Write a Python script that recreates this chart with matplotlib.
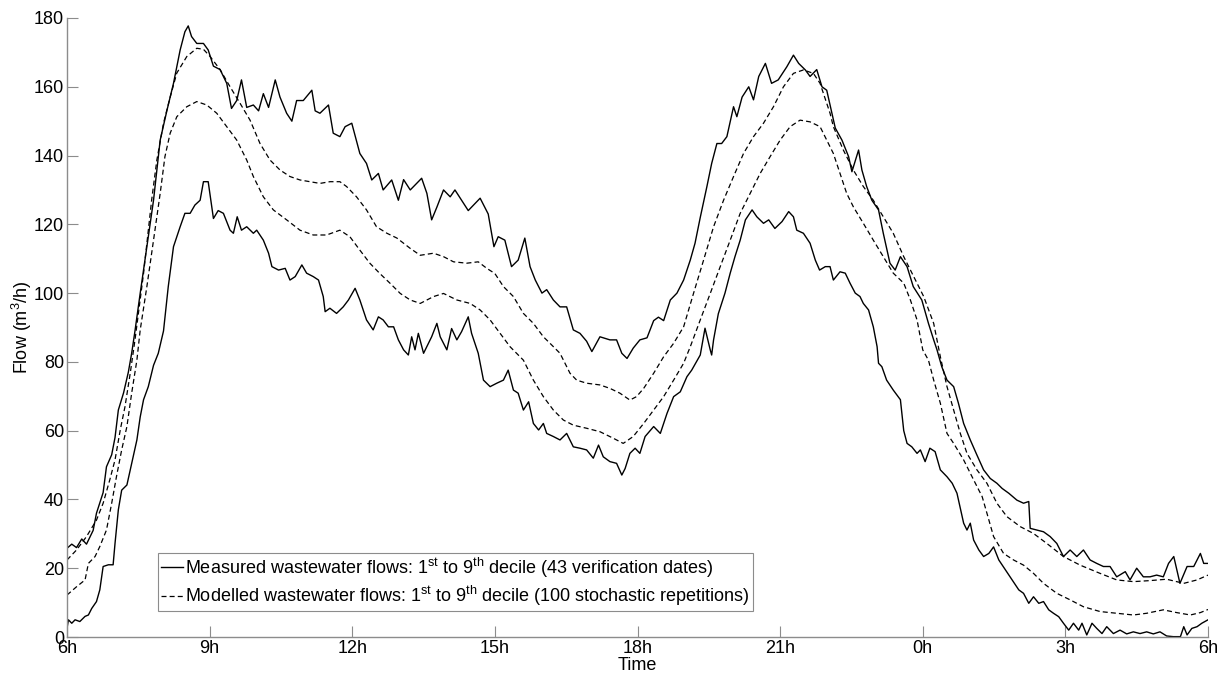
import numpy as np
import matplotlib.pyplot as plt

plt.rcParams['font.family'] = ['Liberation Sans', 'DejaVu Sans']
plt.rcParams['mathtext.fontset'] = 'custom'
plt.rcParams['mathtext.rm'] = 'Liberation Sans'
plt.rcParams['mathtext.it'] = 'Liberation Sans:italic'

# time axis: hours after 6h (0 = 6h, 24 = 6h next day)
tick_pos = [0, 3, 6, 9, 12, 15, 18, 21, 24]
tick_labels = ['6h', '9h', '12h', '15h', '18h', '21h', '0h', '3h', '6h']
y_ticks = [0, 20, 40, 60, 80, 100, 120, 140, 160, 180]

# measured, 9th decile
t_meas9 = [0, 0.1, 0.2, 0.31, 0.41, 0.55, 0.62, 0.69, 0.76, 0.83, 0.94, 1.01, 1.08, 1.19, 1.29, 1.36,
           1.43, 1.54, 1.68, 1.82, 1.96, 2.1, 2.24, 2.38, 2.48, 2.55, 2.62, 2.73, 2.87, 2.97, 3.08,
           3.22, 3.36, 3.46, 3.57, 3.67, 3.78, 3.92, 4.03, 4.13, 4.24, 4.38, 4.48, 4.62, 4.73, 4.83,
           4.97, 5.15, 5.22, 5.32, 5.5, 5.6, 5.74, 5.85, 5.99, 6.16, 6.3, 6.41, 6.55, 6.65, 6.83,
           6.97, 7.08, 7.22, 7.39, 7.46, 7.57, 7.67, 7.78, 7.92, 8.06, 8.16, 8.3, 8.44, 8.58, 8.69,
           8.86, 8.98, 9.07, 9.21, 9.35, 9.49, 9.63, 9.74, 9.85, 9.99, 10.09, 10.23, 10.37, 10.51,
           10.65, 10.79, 10.93, 11.04, 11.21, 11.42, 11.56, 11.67, 11.78, 11.91, 12.05, 12.2, 12.34,
           12.44, 12.55, 12.69, 12.83, 12.97, 13.11, 13.21, 13.32, 13.46, 13.56, 13.67, 13.77, 13.88,
           14.02, 14.09, 14.2, 14.34, 14.44, 14.55, 14.69, 14.82, 14.96, 15.14, 15.28, 15.39, 15.53,
           15.63, 15.77, 15.88, 15.98, 16.09, 16.16, 16.3, 16.44, 16.51, 16.65, 16.72, 16.82, 16.93,
           17.07, 17.17, 17.31, 17.42, 17.53, 17.67, 17.8, 17.98, 18.12, 18.23, 18.3, 18.4, 18.51,
           18.65, 18.75, 18.86, 19.0, 19.14, 19.28, 19.42, 19.56, 19.67, 19.81, 19.98, 20.12, 20.23,
           20.26, 20.4, 20.54, 20.68, 20.82, 20.96, 21.1, 21.24, 21.38, 21.52, 21.66, 21.8, 21.94,
           22.08, 22.26, 22.36, 22.5, 22.64, 22.78, 22.92, 23.06, 23.17, 23.28, 23.41, 23.56, 23.7,
           23.84, 23.91, 24.0]
meas9 = [25.8, 27, 26, 28.5, 27, 31, 36, 39, 42, 49.5, 53, 58, 66, 71, 77, 82.5,
         89, 100, 113.5, 127, 144.5, 153, 161, 170.7, 176, 177.7, 174.6, 172.6, 172.6, 170.7, 166,
         165, 161, 153.7, 156, 162, 154, 154.7, 153, 158, 154, 162, 157, 152.3, 150, 156,
         156, 159, 153, 152.3, 154.7, 146.5, 145.5, 148.4, 149.4, 140.6, 137.7, 132.9, 134.8, 130, 132.9,
         127, 133, 130, 132.4, 133.4, 129, 121.3, 125, 130, 128, 130, 127, 124, 126, 127.6,
         123, 113.5, 116.4, 115.4, 107.7, 109.6, 116, 107.7, 103.8, 100, 101, 98, 96, 96,
         89.3, 88.3, 86, 83, 87.3, 86.4, 86.4, 82.5, 81, 84, 86.4, 87, 92,
         93, 92, 98, 100, 103.8, 109.6, 114.5, 122, 131, 137.7, 143.5, 143.5, 145.5,
         154.2, 151.3, 157, 160, 156.2, 163, 166.8, 161, 162, 165.8, 169.2, 166.8, 164.9,
         163, 165, 160, 159, 152.3, 148, 144.5, 139.7, 135.3, 141.6, 135.8, 131, 127,
         124.2, 117.4, 108.7, 106.7, 110.6, 107.7, 101.9, 98, 91.2, 86.4, 83.5, 78.6, 74.7,
         72.8, 68, 62.1, 57.3, 52.9, 48.6, 46.1, 44.7, 43.2, 41.8, 39.8, 38.9, 39.4,
         31.6, 31.1, 30.6, 29.2, 27.2, 23.4, 25.3, 23.4, 25.3, 22.4, 21.4, 20.5, 20.5,
         17.5, 19, 16.6, 20, 17.5, 17.5, 18, 17.5, 21.4, 23.4, 15.6, 20.5, 20.5,
         24.3, 21.4, 21.4]

# measured, 1st decile
t_meas1 = [0, 0.03, 0.1, 0.17, 0.27, 0.38, 0.45, 0.52, 0.62, 0.69, 0.76, 0.87, 0.97, 1.01, 1.08,
           1.15, 1.26, 1.36, 1.47, 1.54, 1.61, 1.71, 1.82, 1.92, 2.03, 2.13, 2.24, 2.38, 2.48, 2.59,
           2.69, 2.8, 2.87, 2.97, 3.08, 3.18, 3.29, 3.43, 3.5, 3.58, 3.67, 3.78, 3.92, 3.99, 4.13,
           4.24, 4.31, 4.45, 4.59, 4.69, 4.8, 4.94, 5.04, 5.18, 5.29, 5.39, 5.43, 5.53, 5.67, 5.81,
           5.92, 6.06, 6.16, 6.3, 6.44, 6.55, 6.65, 6.76, 6.87, 6.97, 7.08, 7.18, 7.25, 7.32, 7.39,
           7.5, 7.67, 7.78, 7.85, 7.99, 8.09, 8.2, 8.3, 8.44, 8.51, 8.65, 8.76, 8.9, 9.04, 9.18,
           9.28, 9.39, 9.49, 9.6, 9.71, 9.81, 9.92, 10.02, 10.09, 10.23, 10.37, 10.51, 10.65, 10.79,
           10.93, 11.07, 11.18, 11.28, 11.42, 11.56, 11.67, 11.74, 11.84, 11.95, 12.05, 12.16, 12.34,
           12.48, 12.62, 12.76, 12.9, 13.04, 13.14, 13.32, 13.42, 13.53, 13.56, 13.6, 13.7, 13.84,
           13.95, 14.05, 14.16, 14.27, 14.41, 14.51, 14.65, 14.76, 14.89, 15.04, 15.18, 15.28, 15.35,
           15.49, 15.63, 15.74, 15.83, 15.95, 16.05, 16.12, 16.26, 16.37, 16.47, 16.58, 16.68, 16.75,
           16.86, 16.96, 17.04, 17.07, 17.14, 17.24, 17.38, 17.53, 17.6, 17.67, 17.77, 17.88, 17.95,
           18.05, 18.15, 18.26, 18.37, 18.51, 18.62, 18.72, 18.86, 18.93, 19.0, 19.07, 19.18, 19.28,
           19.39, 19.49, 19.6, 19.74, 19.88, 20.02, 20.12, 20.23, 20.33, 20.44, 20.54, 20.65, 20.75,
           20.86, 20.96, 21.07, 21.17, 21.28, 21.35, 21.45, 21.56, 21.66, 21.77, 21.87, 22.01, 22.15,
           22.29, 22.43, 22.57, 22.71, 22.85, 22.99, 23.13, 23.27, 23.42, 23.49, 23.56, 23.66, 23.77,
           23.87, 24]
meas1 = [2.5, 5, 4, 5, 4.5, 6, 6.4, 8.3, 10.3, 13.7, 20.5, 21, 21, 27.2, 37,
         42.7, 44.2, 50.5, 57.3, 64, 69, 72.8, 79, 82.5, 89, 101.9, 113.5, 119.3, 123.2, 123.2,
         125.6, 127, 132.4, 132.4, 121.7, 124, 123.2, 118.3, 117.4, 122.2, 118.3, 119.3, 117.4, 118.3, 115.4,
         111.6, 107.7, 106.7, 107.2, 103.8, 104.8, 108.2, 105.8, 104.8, 103.8, 99, 94.6, 95.6, 94.1, 96,
         98, 101.4, 98, 92.2, 89.3, 93.1, 92.2, 90.2, 90.2, 86.4, 83.5, 82, 87.3, 83.5, 88.3,
         82.5, 87.3, 91.2, 87.3, 83.5, 89.7, 86.4, 88.8, 93.1, 88.3, 82.5, 74.7, 72.8, 73.8, 74.7,
         77.6, 71.8, 70.9, 66, 68.4, 62.1, 60.2, 62.1, 59.2, 58.3, 57.3, 59.2, 55.3, 54.9,
         54.4, 52, 55.8, 52.4, 51, 50.5, 47.1, 49, 53.4, 54.9, 53.4, 58.3, 61.2,
         59.2, 65, 69.9, 71.3, 75.7, 77.6, 82, 89.8, 83.5, 82, 86.4, 94, 100,
         105.8, 110.6, 115.4, 121.3, 124.2, 122.2, 120.3, 121.3, 118.8, 120.8, 123.7, 122.2, 118.3,
         117.4, 114.5, 109.6, 106.7, 107.7, 107.7, 103.8, 106.2, 105.8, 102.9, 100, 99, 97,
         95.1, 90.2, 84.4, 79.6, 78.6, 74.7, 71.8, 69, 60, 56.3, 55.3, 53.4, 54.4,
         51, 54.9, 53.9, 48.6, 46.6, 44.7, 41.8, 33.1, 31.1, 33.1, 28.2, 25.3, 23.4,
         24.3, 26.2, 22.4, 19.5, 16.6, 13.7, 12.7, 9.8, 11.7, 9.8, 10.3, 7.9, 6.9,
         5.9, 4, 2, 4, 2, 4, 0.6, 4, 2.5, 1, 3, 1, 2,
         0.9, 1.5, 1, 1.5, 0.9, 1.5, 0.3, 0.1, 0.1, 3, 0.6, 2.5, 3,
         4, 5]

# modelled, 9th decile
t_mod9 = [0, 0.2, 0.41, 0.62, 0.76, 0.9, 1.01, 1.12, 1.22, 1.33, 1.43, 1.61, 1.78, 1.89, 2.03, 2.17,
          2.31, 2.52, 2.73, 2.87, 3.01, 3.22, 3.43, 3.64, 3.85, 4.06, 4.27, 4.48, 4.69, 4.9, 5.11,
          5.32, 5.53, 5.74, 5.88, 6.09, 6.3, 6.51, 6.73, 6.94, 7.22, 7.43, 7.71, 7.92, 8.13, 8.41,
          8.65, 8.83, 9.0, 9.18, 9.39, 9.6, 9.81, 10.02, 10.16, 10.37, 10.58, 10.72, 10.93, 11.21,
          11.42, 11.63, 11.84, 11.98, 12.13, 12.34, 12.55, 12.76, 12.97, 13.18, 13.39, 13.6, 13.81,
          14.02, 14.23, 14.44, 14.65, 14.86, 15.07, 15.28, 15.49, 15.7, 15.84, 16.05, 16.12, 16.33,
          16.54, 16.75, 16.96, 17.17, 17.38, 17.6, 17.81, 18.02, 18.23, 18.37, 18.51, 18.65, 18.79,
          18.93, 19.14, 19.35, 19.56, 19.77, 20.05, 20.33, 20.61, 20.96, 21.31, 21.73, 22.08, 22.43,
          22.78, 23.13, 23.49, 23.77, 24]
mod9 = [22.4, 25.3, 29.2, 34, 38.9, 45.7, 51.5, 60.2, 67, 76.7, 86.4, 105.7, 127, 138.7, 149.4, 157,
        164, 168.8, 171.2, 170.9, 168.8, 165, 160, 155.2, 150.3, 143.5, 138.7, 135.8, 133.9, 132.9, 132.4,
        131.9, 132.4, 132.4, 131, 128, 124.2, 119.3, 117.4, 116, 113, 111, 111.6, 110.6, 109.1, 108.7,
        109.1, 107.2, 105.7, 101.9, 99, 94.1, 91.2, 87.3, 85.4, 82.5, 76.7, 74.7, 73.8, 73.3,
        72.3, 70.9, 68.9, 69.9, 72.3, 76.7, 81.5, 85.4, 90.2, 100, 109.6, 119.3, 127,
        133.9, 140.6, 145.5, 149.4, 154.2, 160, 163.9, 164.9, 163.9, 161, 152.3, 148.4, 141.6,
        135.8, 131, 127, 122.2, 117.4, 110.6, 104.8, 99, 91.2, 81.5, 72.8, 66, 59.2,
        53.4, 48.6, 44.7, 38.9, 35, 32.1, 30.1, 27.2, 23.4, 20.9, 18.5, 16.6, 16.1,
        16.4, 16.8, 15.6, 16.6, 18]

# modelled, 1st decile
t_mod1 = [0, 0.2, 0.38, 0.45, 0.59, 0.69, 0.83, 0.94, 1.04, 1.15, 1.26, 1.36, 1.47, 1.54, 1.68, 1.82,
          1.96, 2.06, 2.17, 2.31, 2.52, 2.73, 2.94, 3.15, 3.36, 3.57, 3.78, 3.92, 4.13, 4.34, 4.62,
          4.9, 5.18, 5.46, 5.74, 5.95, 6.16, 6.37, 6.58, 6.8, 7.01, 7.22, 7.43, 7.71, 7.92, 8.2,
          8.48, 8.69, 8.9, 9.11, 9.32, 9.6, 9.81, 10.02, 10.23, 10.44, 10.65, 10.93, 11.21, 11.49,
          11.7, 11.91, 12.13, 12.34, 12.55, 12.76, 12.97, 13.11, 13.32, 13.53, 13.74, 13.95, 14.16,
          14.37, 14.58, 14.79, 15.0, 15.21, 15.42, 15.63, 15.84, 15.98, 16.12, 16.26, 16.4, 16.54,
          16.75, 16.96, 17.17, 17.38, 17.6, 17.74, 17.88, 18.0, 18.12, 18.23, 18.37, 18.51, 18.65,
          18.86, 19.07, 19.25, 19.35, 19.49, 19.7, 19.91, 20.12, 20.33, 20.54, 20.82, 21.1, 21.38,
          21.73, 22.08, 22.43, 22.71, 23.06, 23.34, 23.63, 23.84, 24]
mod1 = [12.2, 14.6, 16.6, 21.4, 23.4, 26.3, 31.1, 38.9, 46.6, 54.4, 61.2, 70.9, 80.5, 89.3, 101.9, 115.4,
        129, 139.7, 146.5, 151.3, 154.2, 155.7, 154.7, 152.3, 148.4, 144.5, 138.7, 133.9, 128, 124.2, 121.3,
        118.3, 116.9, 116.9, 118.3, 116.4, 112.5, 108.7, 105.7, 102.8, 99.9, 98, 97, 99, 99.9, 98,
        97, 95.1, 92.2, 88.3, 84.4, 80.5, 74.7, 69.9, 66, 63.1, 61.6, 60.7, 59.7, 57.8,
        56.3, 58.3, 62.1, 66, 69.9, 74.7, 79.6, 84.4, 92.2, 99.9, 107.7, 115.4, 123.2,
        129, 134.8, 139.7, 144.5, 148.4, 150.3, 149.8, 148.4, 144.5, 140.6, 134.8, 129, 125.1,
        120.3, 115.4, 110.6, 105.8, 102.9, 98, 92.2, 83.5, 80.5, 74.7, 68, 59.2, 56.3,
        51.5, 45.7, 40.8, 36, 29.2, 24.3, 22.4, 20.9, 18.5, 15.6, 12.7, 10.8, 8.8,
        7.4, 6.9, 6.4, 6.9, 7.9, 7.1, 6.4, 7.1, 8]

label_meas = r'Measured wastewater flows: 1$^{\rm st}$ to 9$^{\rm th}$ decile (43 verification dates)'
label_mod = r'Modelled wastewater flows: 1$^{\rm st}$ to 9$^{\rm th}$ decile (100 stochastic repetitions)'

fs = 13

fig = plt.figure(figsize=(12.24, 6.77), dpi=100)
ax = fig.add_axes([67 / 1224, 40 / 677, 1141 / 1224, 619 / 677])

dash = (0, (4, 2.5))
ax.plot(t_meas9, meas9, color='black', lw=1.0, label=label_meas)
ax.plot(t_mod9, mod9, color='black', lw=0.9, linestyle=dash, label=label_mod)
ax.plot(t_meas1, meas1, color='black', lw=1.0)
ax.plot(t_mod1, mod1, color='black', lw=0.9, linestyle=dash)

ax.set_xlim(0, 24)
ax.set_ylim(0, 180)
ax.set_xticks(tick_pos)
ax.set_xticklabels(tick_labels)
ax.set_yticks(y_ticks)

for side in ['top', 'right']:
    ax.spines[side].set_visible(False)
for side in ['left', 'bottom']:
    ax.spines[side].set_color('#8c8c8c')
    ax.spines[side].set_linewidth(1.0)
ax.tick_params(direction='in', length=8, width=0.8, color='#8c8c8c',
               labelsize=fs, labelcolor='black')
ax.tick_params(axis='x', pad=2)
ax.tick_params(axis='y', pad=2)

ax.set_xlabel('Time', fontsize=fs, labelpad=0)
ax.set_ylabel('Flow (m$^3$/h)', fontsize=fs, labelpad=0)

leg = ax.legend(loc='lower left', bbox_to_anchor=(0.08, 0.042), fontsize=fs,
                frameon=True, fancybox=False, framealpha=1, edgecolor='#8c8c8c',
                handlelength=1.2, handletextpad=0.15, labelspacing=0.25,
                borderpad=0.15, borderaxespad=0)
leg.get_frame().set_linewidth(0.8)

fig.savefig('out.png', dpi=100)
